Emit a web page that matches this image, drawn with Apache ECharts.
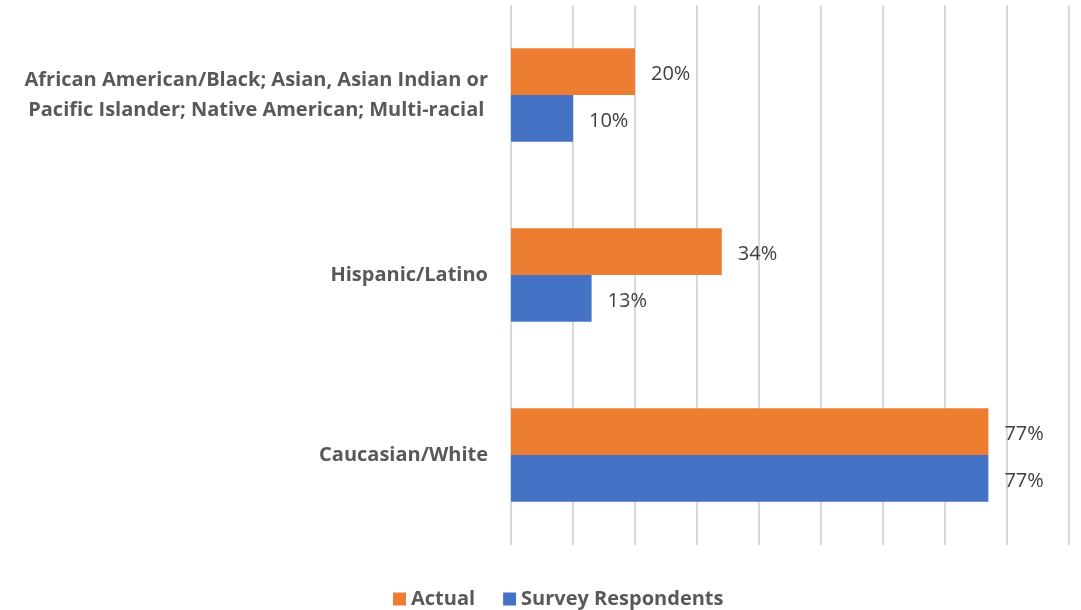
<!DOCTYPE html>
<html>
<head>
<meta charset="utf-8">
<script src="https://cdn.jsdelivr.net/npm/echarts@6/dist/echarts.min.js"></script>
<style>
  html, body { margin: 0; padding: 0; background: #fff; }
  #chart { width: 1081px; height: 610px; }
</style>
</head>
<body>
<div id="chart"></div>
<script>
// Ethnic groups, listed bottom to top along the category axis
const categories = [
  'Caucasian/White',
  'Hispanic/Latino',
  'African American/Black; Asian, Asian Indian or\nPacific Islander; Native American; Multi-racial'
];
// Share of each group, in percent
const actualValues = [77, 34, 20];
const surveyValues = [77, 13, 10];
const seriesNames = ['Actual', 'Survey Respondents'];

const FONT = '"Open Sans", sans-serif';

const chart = echarts.init(document.getElementById('chart'), null, { renderer: 'canvas' });

const valueLabel = {
  show: true,
  position: 'right',
  distance: 16,
  offset: [0, 3],
  formatter: '{c}%',
  color: '#404040',
  fontSize: 20,
  fontFamily: FONT
};

chart.setOption({
  animation: false,
  backgroundColor: '#ffffff',
  grid: { left: 511, right: 12, top: 5, bottom: 65, containLabel: false },
  legend: {
    data: seriesNames,
    top: 584,
    left: 388,
    icon: 'rect',
    itemWidth: 13,
    itemHeight: 13,
    itemGap: 28,
    textStyle: { color: '#595959', fontSize: 20, fontWeight: 'bold', fontFamily: FONT }
  },
  xAxis: {
    type: 'value',
    min: 0,
    max: 90,
    interval: 10,
    axisLabel: { show: false },
    axisLine: { show: false },
    axisTick: { show: false },
    splitLine: { show: true, lineStyle: { color: '#d9d9d9', width: 2 } }
  },
  yAxis: {
    type: 'category',
    data: categories,
    axisLine: { show: false },
    axisTick: { show: false },
    axisLabel: {
      margin: 23,
      color: '#595959',
      fontSize: 20,
      fontWeight: 'bold',
      fontFamily: FONT,
      align: 'right',
      // each line is centred within the right-aligned label block
      formatter: (v) => v.split('\n').map((l) => '{c|' + l + '}').join('\n'),
      rich: {
        c: {
          align: 'center',
          color: '#595959',
          fontSize: 20,
          fontWeight: 'bold',
          fontFamily: FONT,
          lineHeight: 30
        }
      }
    }
  },
  series: [
    {
      name: seriesNames[0],
      type: 'bar',
      data: actualValues,
      itemStyle: { color: '#ED7D31' },
      barGap: '0%',
      barCategoryGap: '48%',
      label: valueLabel
    },
    {
      name: seriesNames[1],
      type: 'bar',
      data: surveyValues,
      itemStyle: { color: '#4472C4' },
      barGap: '0%',
      barCategoryGap: '48%',
      label: valueLabel
    }
  ]
});
</script>
</body>
</html>
